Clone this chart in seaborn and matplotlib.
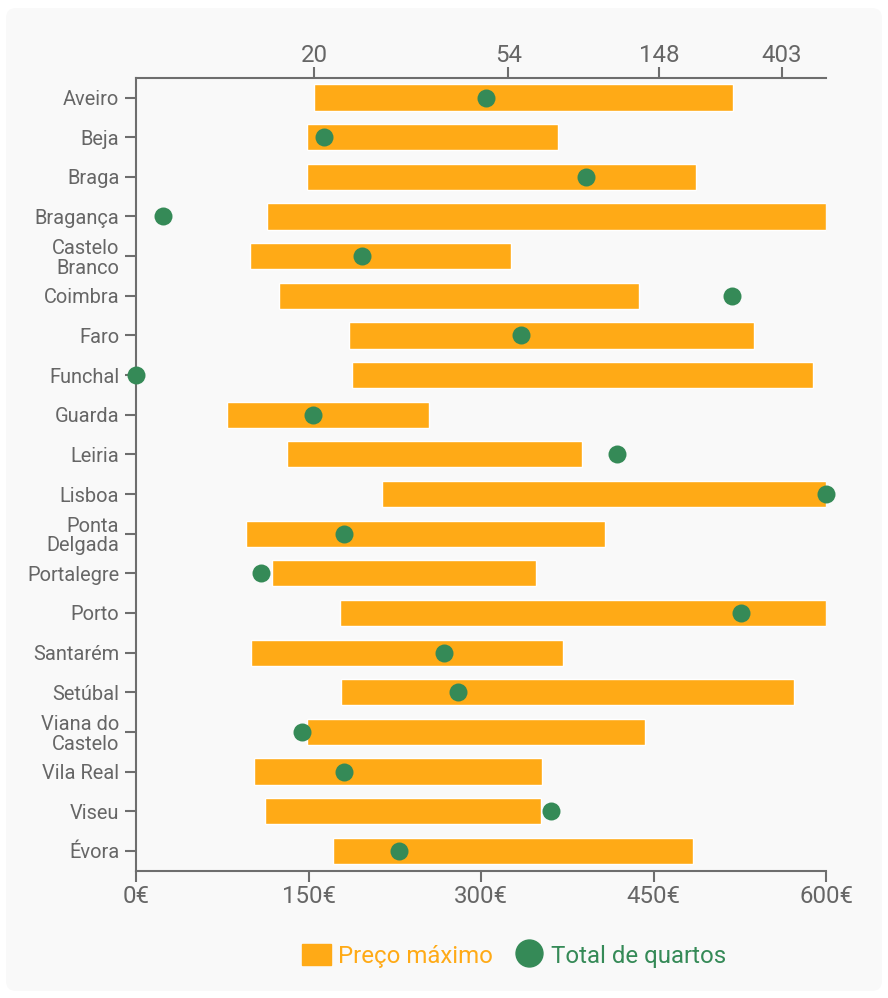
import numpy as np
import pandas as pd
import matplotlib
matplotlib.use("Agg")
import matplotlib.pyplot as plt
import seaborn as sns
from matplotlib.patches import Patch, FancyBboxPatch
from matplotlib.lines import Line2D

# Dados por distrito / região
cidades = ["Aveiro", "Beja", "Braga", "Bragança", "Castelo\nBranco", "Coimbra",
           "Faro", "Funchal", "Guarda", "Leiria", "Lisboa", "Ponta\nDelgada",
           "Portalegre", "Porto", "Santarém", "Setúbal", "Viana do\nCastelo",
           "Vila Real", "Viseu", "Évora"]
preco_min = [155, 149, 149, 114, 99, 124, 185, 188, 79, 131,
             214, 96, 118, 177, 100, 178, 149, 103, 112, 171]
preco_max = [519, 367, 487, 600, 326, 437, 537, 589, 255, 388,
             600, 408, 348, 600, 371, 572, 443, 353, 352, 484]
quartos = [48, 21, 89, 11, 25, 262, 59, 10, 20, 110,
           605, 23, 16, 283, 38, 41, 19, 23, 71, 30]

preco_ticks = [0, 150, 300, 450, 600]
preco_labels = ["0€", "150€", "300€", "450€", "600€"]
quartos_ticks = [20.09, 54.6, 148.41, 403.43]
quartos_labels = ["20", "54", "148", "403"]

laranja = "#ffaa16"
verde = "#358a57"
cinza = "#666666"

df = pd.DataFrame({"cidade": cidades, "minimo": preco_min,
                   "maximo": preco_max, "quartos": quartos})
df["amplitude"] = df["maximo"] - df["minimo"]

sns.set_theme(style="white")
plt.rcParams["font.family"] = ["Roboto", "DejaVu Sans"]

fig = plt.figure(figsize=(8.88, 9.98), dpi=100, facecolor="white")
# cartão de fundo
fig.patches.append(FancyBboxPatch((0.06, 0.07), 8.76, 9.83,
                                  boxstyle="round,pad=0,rounding_size=0.1",
                                  transform=fig.dpi_scale_trans,
                                  facecolor="#f9f9f9", edgecolor="none", zorder=-10))

ax = fig.add_axes([136 / 888, 1 - 870.7 / 998, 690 / 888, 793 / 998])
ax.set_facecolor("none")

# barras flutuantes: do preço mínimo ao máximo
sns.barplot(data=df, x="amplitude", y="cidade", left=df["minimo"].to_numpy(),
            color=laranja, saturation=1, width=0.66, errorbar=None, ax=ax)
ax.set_xlim(0, 600)
ax.set_xticks(preco_ticks)
ax.set_xticklabels(preco_labels)
ax.set_xlabel("")
ax.set_ylabel("")

# eixo de cima para o total de quartos (log do log)
ax2 = ax.twiny()
def fwd(v):
    v = np.maximum(np.asarray(v, dtype=float), 1.0001)
    return np.log(np.log(v))
def inv(t):
    return np.exp(np.exp(t))
ax2.set_xscale("function", functions=(fwd, inv))
sns.scatterplot(data=df, x="quartos", y="cidade", ax=ax2, color=verde, s=168,
                linewidth=0, clip_on=False, zorder=5, legend=False)
ax2.set_xlim(10, 605)
ax2.set_xticks(quartos_ticks)
ax2.set_xticklabels(quartos_labels)
ax2.xaxis.set_minor_locator(matplotlib.ticker.NullLocator())
ax2.set_xlabel("")
ax2.set_ylabel("")
ax.set_ylim(len(cidades) - 0.5, -0.5)

for s in ["top", "right"]:
    ax.spines[s].set_visible(False)
for s in ["bottom", "left", "right"]:
    ax2.spines[s].set_visible(False)
for a, s in [(ax, "left"), (ax, "bottom"), (ax2, "top")]:
    a.spines[s].set_color("#6e6e6e")
    a.spines[s].set_linewidth(1.5)

ax.tick_params(axis="x", bottom=True, length=8, width=1.5, color="#6e6e6e",
               labelsize=17.3, labelcolor=cinza, pad=2)
ax.tick_params(axis="y", left=True, length=8, width=1.5, color="#6e6e6e",
               labelsize=14.4, labelcolor=cinza, pad=4)
ax2.tick_params(axis="x", top=True, bottom=False, labeltop=True, labelbottom=False,
                length=8, width=1.5, color="#6e6e6e", labelsize=17.3,
                labelcolor=cinza, pad=-0.6)
for lab in ax.get_yticklabels():
    lab.set_linespacing(1.05)

handles = [Patch(color=laranja, label="Preço máximo"),
           Line2D([], [], marker="o", linestyle="none", markersize=19.4,
                  color=verde, label="Total de quartos")]
leg = fig.legend(handles=handles, loc="center", bbox_to_anchor=(514 / 888, 1 - 956 / 998),
                 ncol=2, frameon=False, fontsize=17.3, handlelength=1.2,
                 handleheight=0.92, handletextpad=0.3, columnspacing=0.9)
for t, c in zip(leg.get_texts(), [laranja, verde]):
    t.set_color(c)

fig.savefig("out.png", dpi=100, facecolor="white")
